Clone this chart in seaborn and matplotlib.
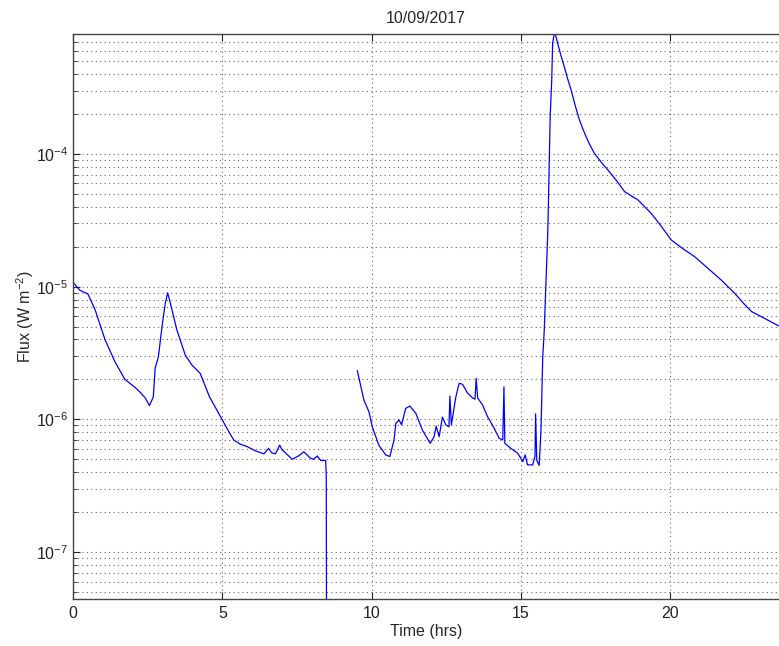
import seaborn as sns
import matplotlib.pyplot as plt
import matplotlib.ticker as mticker
import pandas as pd

# GOES X-ray flux, two pieces with a data gap between them
hours_a = [0.0, 0.23, 0.5, 0.74, 1.07, 1.41, 1.74, 2.08, 2.25, 2.42, 2.56, 2.69, 2.75, 2.86,
           2.98, 3.09, 3.17, 3.26, 3.48, 3.76, 3.98, 4.26, 4.57, 4.99, 5.2, 5.38, 5.6, 5.83,
           6.1, 6.39, 6.55, 6.65, 6.78, 6.92, 7.0, 7.11, 7.34, 7.55, 7.73, 7.95, 8.05, 8.18,
           8.3, 8.46, 8.48, 8.50]
flux_a = [1.08e-5, 9.4e-6, 8.8e-6, 6.7e-6, 4.0e-6, 2.7e-6, 2.0e-6, 1.74e-6, 1.6e-6, 1.45e-6,
          1.27e-6, 1.48e-6, 2.43e-6, 2.97e-6, 5.0e-6, 7.5e-6, 9.0e-6, 7.5e-6, 4.7e-6,
          3.05e-6, 2.57e-6, 2.22e-6, 1.48e-6, 1.0e-6, 8.2e-7, 7.0e-7, 6.5e-7, 6.24e-7,
          5.8e-7, 5.5e-7, 6.05e-7, 5.6e-7, 5.5e-7, 6.4e-7, 5.9e-7, 5.6e-7, 5.0e-7, 5.3e-7,
          5.7e-7, 5.1e-7, 5.0e-7, 5.3e-7, 4.9e-7, 4.9e-7, 3.8e-7, 1e-9]

hours_b = [9.52, 9.74, 9.91, 10.02, 10.24, 10.47, 10.61, 10.75, 10.81, 10.92, 11.0,
           11.14, 11.28, 11.48, 11.70, 11.96, 12.09, 12.16, 12.26, 12.37, 12.48, 12.59,
           12.62, 12.67, 12.82, 12.93, 13.04, 13.21, 13.38, 13.46, 13.50, 13.55, 13.71,
           13.88, 14.10, 14.27, 14.39, 14.43, 14.46, 14.66, 14.89, 15.06, 15.14, 15.22,
           15.39, 15.47, 15.49, 15.53, 15.61, 15.67, 15.73, 15.78, 15.90, 15.98, 16.03,
           16.06, 16.13, 16.23, 16.34, 16.45, 16.56, 16.68, 16.82, 16.96, 17.07, 17.18,
           17.30, 17.46, 17.70, 17.91, 18.20, 18.47, 18.92, 19.36, 19.70, 20.03, 20.40,
           20.82, 21.30, 21.71, 22.16, 22.45, 22.72, 23.20, 23.64]
flux_b = [2.33e-6, 1.40e-6, 1.14e-6, 8.8e-7, 6.4e-7, 5.4e-7, 5.25e-7, 7.0e-7, 9.3e-7,
          9.9e-7, 9.1e-7, 1.21e-6, 1.26e-6, 1.11e-6, 8.3e-7, 6.6e-7, 7.4e-7, 8.9e-7,
          7.4e-7, 1.04e-6, 9.1e-7, 8.8e-7, 1.5e-6, 9.1e-7, 1.48e-6, 1.87e-6, 1.84e-6,
          1.58e-6, 1.45e-6, 1.42e-6, 2.04e-6, 1.45e-6, 1.29e-6, 1.05e-6, 8.6e-7, 7.2e-7,
          7.0e-7, 1.76e-6, 6.6e-7, 6.05e-7, 5.56e-7, 4.8e-7, 5.4e-7, 4.54e-7, 4.54e-7,
          5.25e-7, 1.1e-6, 4.9e-7, 4.5e-7, 8.3e-7, 2.97e-6, 4.7e-6, 2.67e-5, 1.97e-4,
          3.61e-4, 6.86e-4, 8.4e-4, 6.8e-4, 5.5e-4, 4.55e-4, 3.7e-4, 3.03e-4, 2.3e-4,
          1.8e-4, 1.55e-4, 1.35e-4, 1.18e-4, 1.01e-4, 8.6e-5, 7.58e-5, 6.3e-5, 5.2e-5,
          4.5e-5, 3.57e-5, 2.85e-5, 2.25e-5, 1.95e-5, 1.68e-5, 1.35e-5, 1.12e-5, 8.9e-6,
          7.5e-6, 6.5e-6, 5.7e-6, 5.05e-6]

df = pd.DataFrame({
    'hours': hours_a + hours_b,
    'flux': flux_a + flux_b,
    'seg': ['a'] * len(hours_a) + ['b'] * len(hours_b),
})

sns.set_style('white')
plt.rcParams['font.family'] = ['Liberation Sans', 'DejaVu Sans']
plt.rcParams['mathtext.fontset'] = 'custom'
plt.rcParams['mathtext.rm'] = 'Liberation Sans'
plt.rcParams['mathtext.it'] = 'Liberation Sans'
plt.rcParams['axes.unicode_minus'] = False

fig = plt.figure(figsize=(7.79, 6.46), dpi=100)
ax = fig.add_axes([73 / 779, 47 / 646, 706 / 779, 565 / 646])

sns.lineplot(data=df, x='hours', y='flux', units='seg', estimator=None,
             color='#0000ff', linewidth=0.9, ax=ax, sort=False)

ax.set_yscale('log')
ax.set_xlim(0, 23.64)
ax.set_ylim(4.43e-8, 8.02e-4)
ax.set_xticks([0, 5, 10, 15, 20])
ax.set_yticks([1e-7, 1e-6, 1e-5, 1e-4])
ax.yaxis.set_minor_locator(mticker.LogLocator(base=10, subs=range(2, 10)))
ax.yaxis.set_minor_formatter(mticker.NullFormatter())

ax.grid(True, which='major', color='#666666', linestyle=(0, (1, 3)), linewidth=0.8)
ax.grid(True, which='minor', axis='y', color='#666666', linestyle=(0, (1, 3)), linewidth=0.8)

ax.tick_params(which='both', direction='in', top=True, left=True, bottom=True,
               labelsize=11.5, colors='#222222')
ax.tick_params(which='major', length=5)
ax.tick_params(which='minor', length=3)
for side in ['left', 'bottom', 'top']:
    ax.spines[side].set_color('#444444')
    ax.spines[side].set_linewidth(1.0)
ax.spines['right'].set_visible(False)
ax.tick_params(axis='x', pad=5)

ax.set_title('10/09/2017', fontsize=11.5, pad=8)
ax.set_xlabel('Time (hrs)', fontsize=11.5, labelpad=2)
ax.set_ylabel('Flux (W m$^{-2}$)', fontsize=11.5)
ax.yaxis.set_label_coords(-0.052, 0.5)

plt.savefig('out.png', dpi=100)
